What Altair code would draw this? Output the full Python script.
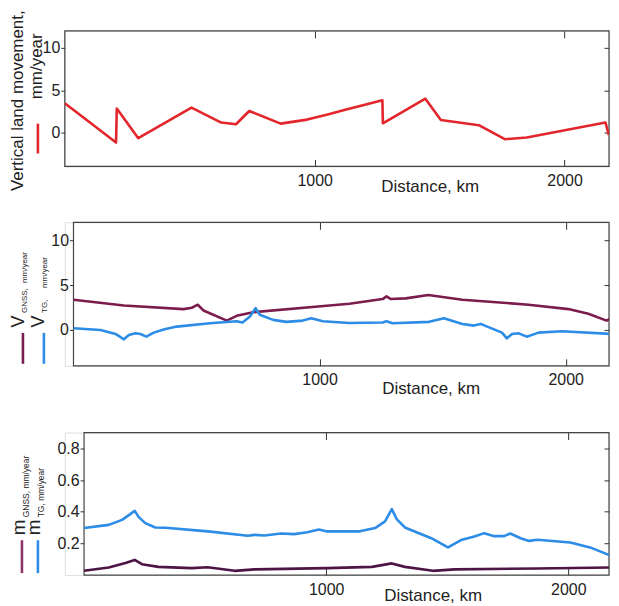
import altair as alt
import pandas as pd

# ---------------- data ----------------
# Panel 1: vertical land movement, mm/year
dist_vlm = [0, 205, 208, 294, 507, 626, 685, 738, 864, 970, 1056, 1115, 1271, 1273,
            1443, 1505, 1657, 1761, 1849, 2164, 2177]
vlm = [3.46, -1.18, 2.83, -0.66, 2.94, 1.18, 0.98, 2.55, 1.06, 1.53, 2.16, 2.63, 3.81, 1.10,
       4.00, 1.49, 0.87, -0.78, -0.58, 1.18, -0.27]

# Panel 2: V_GNSS and V_TG, mm/year
dist_vg = [0, 205, 447, 481, 505, 528, 623, 663, 730, 1040, 1121, 1256, 1272, 1290, 1350,
           1442, 1580, 1849, 2011, 2092, 2166, 2184]
v_gnss = [3.37, 2.73, 2.32, 2.47, 2.81, 2.17, 1.04, 1.57, 1.98, 2.73, 2.92, 3.44, 3.74, 3.44, 3.52,
          3.89, 3.37, 2.81, 2.32, 1.80, 1.04, 1.30]
dist_vt = [0, 110, 171, 205, 225, 252, 272, 296, 326, 370, 420, 555, 663, 687, 717, 740, 757,
           811, 865, 932, 966, 1013, 1121, 1256, 1272, 1296, 1445, 1505, 1580, 1627, 1654,
           1741, 1761, 1782, 1809, 1842, 1890, 1984, 2184]
v_tg = [0.18, 0.00, -0.45, -1.05, -0.56, -0.38, -0.45, -0.75, -0.30, 0.08, 0.37, 0.74, 0.97, 0.82,
        1.49, 2.43, 1.69, 1.12, 0.90, 1.04, 1.30, 0.97, 0.78, 0.82, 0.97, 0.74, 0.90, 1.30, 0.67,
        0.48, 0.67, -0.30, -0.94, -0.45, -0.38, -0.75, -0.30, -0.15, -0.45]

# Panel 3: m_GNSS and m_TG, mm/year
dist_mg = [0, 102, 171, 209, 239, 307, 444, 510, 622, 704, 1004, 1189, 1271, 1325, 1441,
           1530, 1872, 2183]
m_gnss = [0.027, 0.048, 0.076, 0.096, 0.069, 0.052, 0.044, 0.050, 0.027, 0.036, 0.044, 0.052,
          0.074, 0.052, 0.027, 0.036, 0.042, 0.048]
dist_mt = [0, 102, 157, 191, 209, 225, 253, 294, 335, 512, 676, 704, 745, 813, 868, 922, 970,
           1004, 1134, 1202, 1243, 1271, 1291, 1325, 1434, 1503, 1557, 1612, 1653, 1694, 1735,
           1760, 1803, 1838, 1872, 2008, 2090, 2183]
m_tg = [0.297, 0.317, 0.349, 0.385, 0.406, 0.368, 0.328, 0.301, 0.299, 0.276, 0.248, 0.254,
        0.250, 0.263, 0.259, 0.271, 0.288, 0.276, 0.276, 0.297, 0.339, 0.417, 0.354, 0.301,
        0.233, 0.175, 0.221, 0.244, 0.265, 0.246, 0.246, 0.263, 0.233, 0.216, 0.223, 0.206,
        0.175, 0.118]

x_ticks = [1000, 2000]
v_ticks = [0, 5, 10]
m_ticks = [0.2, 0.4, 0.6, 0.8]

# ---------------- styling ----------------
FONT = "Liberation Sans"
TXT = "#222222"
TICK = "#333333"
RED = "#e3262b"
PURPLE = "#7b1c4c"
PURPLE_DARK = "#4d1446"
PURPLE_DASH = "#8c3566"
BLUE = "#2c8ce6"
W = 546

one = pd.DataFrame({"k": [0]})


def ax_bottom(tx, ty):
    return alt.Axis(orient="bottom", offset=-7, tickSize=7, values=x_ticks, format="d",
                    domain=False, grid=False, labelFontSize=16, labelPadding=6,
                    labelColor=TXT, tickColor=TICK, labelFont=FONT,
                    title="Distance, km", titleFont=FONT, titleFontSize=17,
                    titleFontWeight="normal", titleColor=TXT, titleX=tx, titleY=ty,
                    titleAlign="center", titleBaseline="alphabetic")


def ax_top():
    return alt.Axis(orient="top", offset=-7, tickSize=7, values=x_ticks, domain=False,
                    grid=False, labels=False, title=None, tickColor=TICK)


def ax_left(vals, fmt, off):
    return alt.Axis(orient="left", offset=off, tickSize=4, values=vals, format=fmt,
                    domain=False, grid=False, labelFontSize=16, labelPadding=1,
                    labelColor=TXT, tickColor=TICK, labelFont=FONT, title=None)


def ax_right(vals):
    return alt.Axis(orient="right", offset=-5, tickSize=5, values=vals, domain=False,
                    grid=False, labels=False, title=None, tickColor=TICK)


def frame(xs, ys, xdom, ydom, yvals):
    return alt.Chart(one).mark_rect(filled=False, stroke="#444444", strokeWidth=1.2).encode(
        x=alt.XDatum(xdom[0], type="quantitative", scale=xs, axis=ax_top()),
        x2=alt.X2Datum(xdom[1]),
        y=alt.YDatum(ydom[0], type="quantitative", scale=ys, axis=ax_right(yvals)),
        y2=alt.Y2Datum(ydom[1]),
    )


def line(dist, vals, color, xs, ys, xaxis=None, yaxis=None, width=2.6):
    df = pd.DataFrame({"d": dist, "v": vals})
    return alt.Chart(df).mark_line(color=color, strokeWidth=width, strokeJoin="round",
                                   clip=True).encode(
        x=alt.X("d:Q", scale=xs, axis=xaxis),
        y=alt.Y("v:Q", scale=ys, axis=yaxis),
    )


def label(text, x, y, size, align="center", color=TXT):
    return alt.Chart(one).mark_text(text=text, angle=270, fontSize=size, font=FONT,
                                    color=color, align=align, baseline="middle").encode(
        x=alt.value(x), y=alt.value(y))


def dash(x, y1, y2, color):
    return alt.Chart(one).mark_rule(color=color, strokeWidth=2.6).encode(
        x=alt.value(x), y=alt.value(y1), y2=alt.value(y2))


# ---------------- panel 1 ----------------
xd1, yd1 = [0, 2178], [-4, 12]
xs1 = alt.Scale(domain=xd1, range=[0, W], nice=False, zero=False)
ys1 = alt.Scale(domain=yd1, nice=False, zero=False)
p1 = alt.layer(
    frame(xs1, ys1, xd1, yd1, v_ticks),
    line(dist_vlm, vlm, RED, xs1, ys1, ax_bottom(366, 32), ax_left(v_ticks, "d", 0)),
    label("Vertical land movement,", -47, 70, 17),
    label("mm/year", -28, 35.5, 17),
    dash(-27, 93, 123, RED),
).resolve_axis(x="independent", y="independent").properties(width=W, height=136)

# ---------------- panel 2 ----------------
xd2, yd2 = [0, 2176], [-4, 12]
xs2 = alt.Scale(domain=xd2, range=[8.7, W], nice=False, zero=False)
ys2 = alt.Scale(domain=yd2, nice=False, zero=False)
p2 = alt.layer(
    frame(xs2, ys2, xd2, yd2, v_ticks),
    line(dist_vg, v_gnss, PURPLE, xs2, ys2, ax_bottom(367, 35), ax_left(v_ticks, "d", -8.7)),
    line(dist_vt, v_tg, BLUE, xs2, ys2),
    label("V", -46, 99.5, 18),
    label("GNSS,", -40, 91, 8, "left"),
    label("mm/year", -40, 61, 8, "left"),
    dash(-42, 111, 142, PURPLE),
    label("V", -26, 99.5, 18),
    label("TG,", -20, 91, 8, "left"),
    label("mm/year", -20, 66, 8, "left"),
    dash(-21, 111, 142, BLUE),
).resolve_axis(x="independent", y="independent").properties(width=W, height=144)

# ---------------- panel 3 ----------------
xd3, yd3 = [0, 2168], [0, 0.9]
xs3 = alt.Scale(domain=xd3, range=[19.3, W], nice=False, zero=False)
ys3 = alt.Scale(domain=yd3, nice=False, zero=False)
p3 = alt.layer(
    frame(xs3, ys3, xd3, yd3, m_ticks),
    line(dist_mg, m_gnss, PURPLE_DARK, xs3, ys3, ax_bottom(369, 32.5), ax_left(m_ticks, ".1f", -19.3)),
    line(dist_mt, m_tg, BLUE, xs3, ys3),
    label("m", -45.5, 95, 19),
    label("GNSS, mm/year", -38.5, 85, 8.5, "left"),
    dash(-43, 108, 141, PURPLE_DASH),
    label("m", -31.2, 95, 19),
    label("TG, mm/year", -23.5, 85, 8.5, "left"),
    dash(-27, 108, 141, BLUE),
).resolve_axis(x="independent", y="independent").properties(width=W, height=143)

chart = alt.vconcat(
    p1,
    alt.vconcat(p2, p3, spacing=67, bounds="flush"),
    spacing=56, bounds="flush",
).properties(padding=0).configure_view(stroke=None).configure(font=FONT)

chart.save("out.html", embed_options={"renderer": "svg", "actions": False})
